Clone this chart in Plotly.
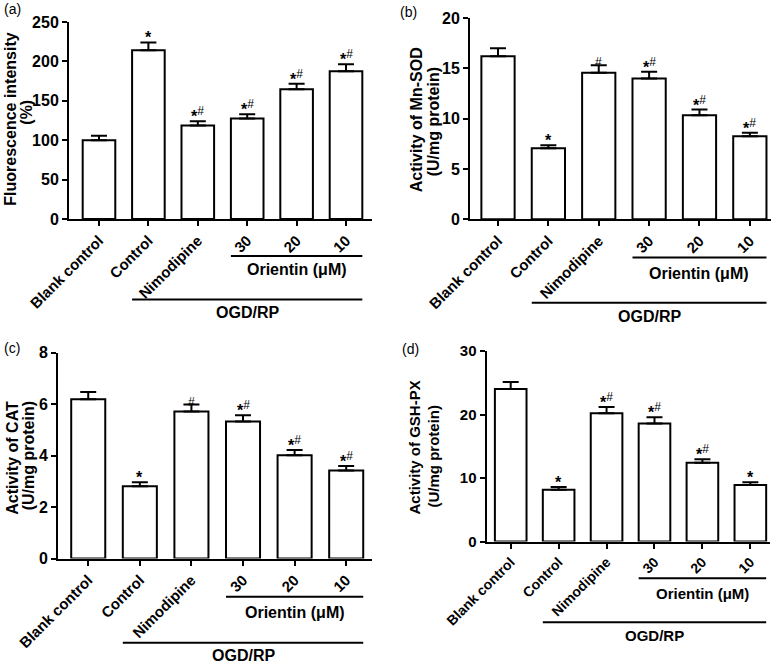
import plotly.graph_objects as go

W, H = 778, 664

categories = ["Blank control", "Control", "Nimodipine", "30", "20", "10"]

# (a) Fluorescence intensity (%)
fluor_mean = [100, 214, 118.5, 127.5, 164.5, 187.5]
fluor_err = [5.5, 10, 5.5, 5.5, 7, 9]
fluor_sig = ["", "*", "*#", "*#", "*#", "*#"]

# (b) Activity of Mn-SOD (U/mg protein)
sod_mean = [16.2, 7.05, 14.55, 14.0, 10.35, 8.25]
sod_err = [0.8, 0.3, 0.75, 0.65, 0.55, 0.35]
sod_sig = ["", "*", "#", "*#", "*#", "*#"]

# (c) Activity of CAT (U/mg protein)
cat_mean = [6.18, 2.81, 5.71, 5.32, 4.01, 3.42]
cat_err = [0.29, 0.15, 0.27, 0.24, 0.2, 0.17]
cat_sig = ["", "*", "#", "*#", "*#", "*#"]

# (d) Activity of GSH-PX (U/mg protein)
gsh_mean = [24.0, 8.15, 20.2, 18.6, 12.4, 8.9]
gsh_err = [1.1, 0.45, 1.0, 0.95, 0.55, 0.45]
gsh_sig = ["", "*", "*#", "*#", "*#", "*"]

orientin_label = "Orientin (μM)"
group_label = "OGD/RP"

BAR_W = 0.66
FONT = "Arial, Liberation Sans, Helvetica, sans-serif"

panels = [
    dict(letter="(a)", mean=fluor_mean, err=fluor_err, sig=fluor_sig,
         title=["Fluorescence intensity", "(%)"], ymax=250, dtick=50,
         xpx=(69, 372), ypx=(22, 219), xr=(-0.607, 5.526),
         letter_pos=(12, 9), title_x=(9.7, 26.7), title_y=(119, 112),
         ori_line=256, ori_text=270, ogd_line=299.5, ogd_text=312.5,
         tfs=16, xfs=15),
    dict(letter="(b)", mean=sod_mean, err=sod_err, sig=sod_sig,
         title=["Activity of Mn-SOD", "(U/mg protein)"], ymax=20, dtick=5,
         xpx=(470, 771), ypx=(18, 219.3), xr=(-0.556, 5.42),
         letter_pos=(408, 12), title_x=(416.7, 433.3), title_y=(119.5, 122),
         ori_line=257.5, ori_text=273.5, ogd_line=302.7, ogd_text=317,
         tfs=16, xfs=15),
    dict(letter="(c)", mean=cat_mean, err=cat_err, sig=cat_sig,
         title=["Activity of CAT", "(U/mg protein)"], ymax=8, dtick=2,
         xpx=(58, 372), ypx=(352.5, 558.5), xr=(-0.586, 5.5),
         letter_pos=(12, 348), title_x=(11.7, 28.3), title_y=(458, 456),
         ori_line=596.7, ori_text=612.7, ogd_line=642.7, ogd_text=655.5,
         tfs=16, xfs=15),
    dict(letter="(d)", mean=gsh_mean, err=gsh_err, sig=gsh_sig,
         title=["Activity of GSH-PX", "(U/mg protein)"], ymax=30, dtick=10,
         xpx=(486.5, 770), ypx=(351, 541.5), xr=(-0.505, 5.41),
         letter_pos=(411, 349), title_x=(414, 432.5), title_y=(447.5, 456),
         ori_line=578.3, ori_text=593.5, ogd_line=622.3, ogd_text=635.5,
         tfs=15, xfs=14),
]


def fx(px):
    return px / W


def fy(py):
    return 1 - py / H


fig = go.Figure()
annotations = []
shapes = []

for i, p in enumerate(panels, start=1):
    sfx = "" if i == 1 else str(i)
    xa, ya = "x" + sfx, "y" + sfx
    xs = list(range(len(categories)))
    fig.add_trace(go.Bar(
        x=xs, y=p["mean"], xaxis=xa, yaxis=ya, width=BAR_W,
        marker=dict(color="white", line=dict(color="black", width=2)),
        error_y=dict(type="data", array=p["err"], arrayminus=[0] * len(xs),
                     symmetric=False, color="black", thickness=2, width=8),
        hoverinfo="skip", showlegend=False,
    ))
    fig.layout["xaxis" + sfx] = dict(
        domain=[fx(p["xpx"][0]), fx(p["xpx"][1])], range=list(p["xr"]),
        anchor=ya, tickmode="array", tickvals=xs, ticktext=categories,
        tickangle=-45, ticks="outside", ticklen=5, tickwidth=2, tickcolor="black",
        showline=True, linewidth=2, linecolor="black", showgrid=False,
        zeroline=False, fixedrange=True, automargin=False,
        tickfont=dict(family=FONT, size=p["xfs"], color="black", weight="bold"),
    )
    fig.layout["yaxis" + sfx] = dict(
        domain=[fy(p["ypx"][1]), fy(p["ypx"][0])], range=[0, p["ymax"]],
        anchor=xa, dtick=p["dtick"], tick0=0, ticks="outside", ticklen=5,
        tickwidth=2, tickcolor="black", showline=True, linewidth=2,
        linecolor="black", showgrid=False, zeroline=False, fixedrange=True,
        automargin=False,
        tickfont=dict(family=FONT, size=p["tfs"], color="black", weight="bold"),
    )
    # significance marks
    for j, s in enumerate(p["sig"]):
        if not s:
            continue
        txt = s.replace("*", "<b>*</b>").replace(
            "#", "<sup><span style='font-size:12px'>#</span></sup>")
        annotations.append(dict(
            x=j, y=p["mean"][j] + p["err"][j], xref=xa, yref=ya,
            text=txt, showarrow=False, yanchor="bottom", xanchor="center",
            yshift=-6, font=dict(family=FONT, size=16, color="black"),
        ))
    # panel letter
    annotations.append(dict(
        x=fx(p["letter_pos"][0]), y=fy(p["letter_pos"][1]), xref="paper",
        yref="paper", text=p["letter"], showarrow=False, xanchor="center",
        yanchor="middle", font=dict(family=FONT, size=14, color="black"),
    ))
    # y titles (two lines)
    for k in range(2):
        annotations.append(dict(
            x=fx(p["title_x"][k]), y=fy(p["title_y"][k]), xref="paper",
            yref="paper", text="<b>" + p["title"][k] + "</b>", textangle=-90,
            showarrow=False, xanchor="center", yanchor="middle",
            font=dict(family=FONT, size=p["tfs"], color="black"),
        ))
    # group lines and labels
    shapes.append(dict(type="line", xref=xa, yref="paper",
                       x0=3 - BAR_W / 2, x1=5 + BAR_W / 2,
                       y0=fy(p["ori_line"]), y1=fy(p["ori_line"]),
                       line=dict(color="black", width=2)))
    shapes.append(dict(type="line", xref=xa, yref="paper",
                       x0=1 - BAR_W / 2, x1=5 + BAR_W / 2,
                       y0=fy(p["ogd_line"]), y1=fy(p["ogd_line"]),
                       line=dict(color="black", width=2)))
    annotations.append(dict(
        x=4, y=fy(p["ori_text"]), xref=xa, yref="paper",
        text="<b>" + orientin_label + "</b>", showarrow=False,
        xanchor="center", yanchor="middle",
        font=dict(family=FONT, size=p["tfs"], color="black"),
    ))
    annotations.append(dict(
        x=3, y=fy(p["ogd_text"]), xref=xa, yref="paper",
        text="<b>" + group_label + "</b>", showarrow=False,
        xanchor="center", yanchor="middle",
        font=dict(family=FONT, size=p["tfs"], color="black"),
    ))

fig.update_layout(
    width=W, height=H,
    margin=dict(l=0, r=0, t=0, b=0, pad=0, autoexpand=False),
    paper_bgcolor="white", plot_bgcolor="white", showlegend=False,
    annotations=annotations, shapes=shapes, bargap=0.3,
    font=dict(family=FONT, color="black"),
)

fig.write_html(
    "out.html",
    config={"displayModeBar": False, "staticPlot": True},
    post_script="document.body.style.margin='0';document.body.style.overflow='hidden';",
)
